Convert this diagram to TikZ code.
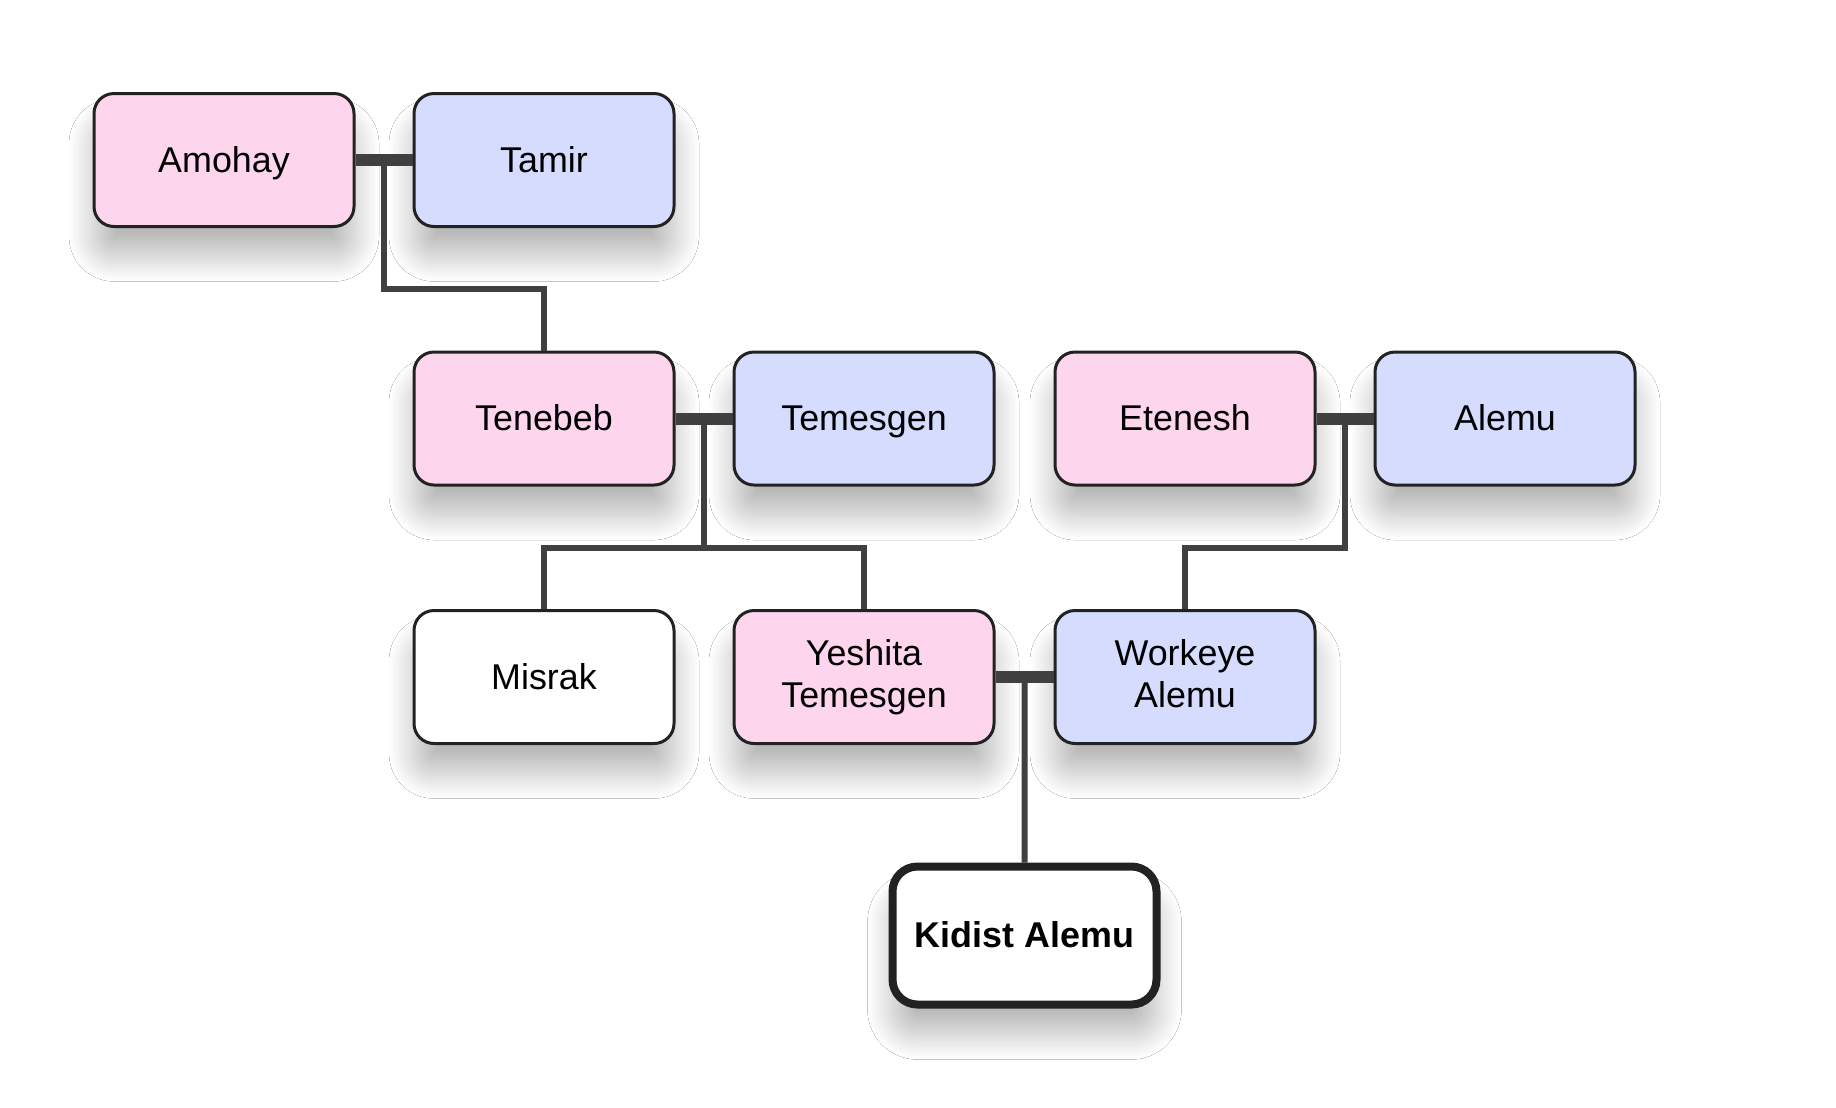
\documentclass[tikz,border=0pt]{standalone}
\usepackage{fontspec}
\setmainfont{Liberation Sans}
\usepackage{tikz}
\usetikzlibrary{calc,shadows.blur}
\definecolor{herpink}{HTML}{FDD6EE}
\definecolor{hisblue}{HTML}{D6DCFD}
\definecolor{rim}{HTML}{222222}
\definecolor{tie}{HTML}{404040}
\newcommand{\linestrut}{\rule[-0.212em]{0pt}{1.117em}}
\tikzset{
  person/.style={draw=rim, line width=0.03cm, rounded corners=0.2cm,
    minimum width=2.6cm, minimum height=1.33cm, align=center, inner sep=0pt,
    font=\fontsize{10.2pt}{12pt}\selectfont,
    execute at begin node=\linestrut, execute at end node=\linestrut,
    blur shadow={shadow xshift=0cm, shadow yshift=-0.3cm, shadow blur radius=0.25cm,
      shadow blur steps=30, shadow opacity=28}},
  she/.style={person, fill=herpink},
  he/.style={person, fill=hisblue},
  couple/.style={draw=tie, line width=0.12cm},
  kin/.style={draw=tie, line width=0.06cm}
}

\begin{document}
\begin{tikzpicture}
\useasboundingbox[fill=white] (0,0) rectangle (18.36,-11.07);
\node[she] (amohay) at (2.24,-1.60) {Amohay};
\node[he] (tamir) at (5.44,-1.60) {Tamir};
\node[she] (tenebeb) at (5.44,-4.185) {Tenebeb};
\node[he] (temesgen) at (8.64,-4.185) {Temesgen};
\node[she] (etenesh) at (11.85,-4.185) {Etenesh};
\node[he] (alemu) at (15.05,-4.185) {Alemu};
\node[person, fill=white] (misrak) at (5.44,-6.77) {Misrak};
\node[she] (yeshita) at (8.64,-6.77) {Yeshita\\Temesgen};
\node[he] (workeye) at (11.85,-6.77) {Workeye\\Alemu};
\node[person, fill=white, line width=0.08cm, rounded corners=0.25cm,
  minimum width=2.64cm, minimum height=1.38cm,
  font=\fontsize{10.2pt}{12pt}\selectfont\bfseries] (kidist) at (10.245,-9.355) {Kidist Alemu};

% marriages
\draw[couple] (amohay) -- (tamir);
\draw[couple] (tenebeb) -- (temesgen);
\draw[couple] (etenesh) -- (alemu);
\draw[couple] (yeshita) -- (workeye);

\coordinate (m1) at ($(amohay.east)!0.5!(tamir.west)$);
\coordinate (m2) at ($(tenebeb.east)!0.5!(temesgen.west)$);
\coordinate (m3) at ($(etenesh.east)!0.5!(alemu.west)$);
\coordinate (m4) at ($(yeshita.east)!0.5!(workeye.west)$);

% children
\draw[kin] (m1) -- (m1 |- 0,-2.89) -| (tenebeb.north);
\draw[kin] (m2) -- (m2 |- 0,-5.48) -| (misrak.north);
\draw[kin] (m2 |- 0,-5.48) -| (yeshita.north);
\draw[kin] (m3) -- (m3 |- 0,-5.48) -| (workeye.north);
\draw[kin] (m4) -- (kidist.north);
\end{tikzpicture}
\end{document}
